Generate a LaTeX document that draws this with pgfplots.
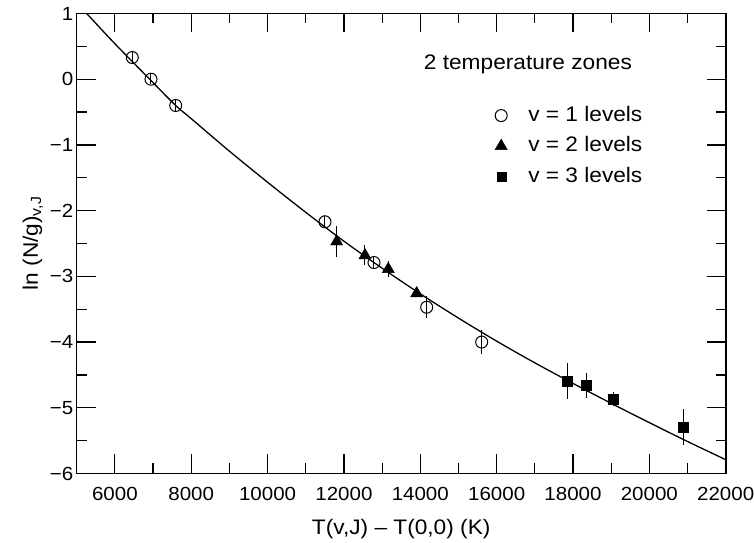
\documentclass[border=0pt]{standalone}
\usepackage{pgfplots}
\pgfplotsset{compat=1.18}
\usepackage{pgfplotstable}
\usepackage{fontspec}
\setmainfont{Liberation Sans}[FakeStretch=1.08]

\pgfplotstableread{
x y ey
6456 0.33 0.08
6946 0.00 0.08
7593 -0.40 0.10
11503 -2.17 0.10
12787 -2.79 0.10
14167 -3.47 0.17
15608 -4.00 0.18
}\vone
\pgfplotstableread{
x y ey
11810 -2.47 0.24
12551 -2.68 0.15
13162 -2.89 0.12
13905 -3.26 0.06
}\vtwo
\pgfplotstableread{
x y ey
17850 -4.59 0.27
18358 -4.66 0.19
19055 -4.87 0.11
20888 -5.29 0.27
}\vthree

\begin{document}
\begin{tikzpicture}
\useasboundingbox (-76.7pt,-68.7pt) rectangle (677.3pt,473.5pt);
\begin{axis}[
  scale only axis,
  width=649pt, height=460pt,
  xmin=5000, xmax=22000, ymin=-6, ymax=1,
  xtick={6000,8000,...,22000},
  minor x tick num=1,
  ytick={-6,-5,...,1},
  yticklabels={−6,−5,−4,−3,−2,−1,0,1},
  minor y tick num=1,
  scaled x ticks=false,
  /pgf/number format/assume math mode=true,
  /pgf/number format/1000 sep={},
  tick align=inside,
  major tick length=19pt,
  minor tick length=10pt,
  every tick/.style={line width=1.2pt, black},
  axis line style={line width=1.6pt},
  tick label style={font=\fontsize{19}{22}\selectfont},
  xticklabel style={yshift=-10pt},
  label style={font=\fontsize{21}{25}\selectfont},
  xlabel={T(v,J) – T(0,0) (K)},
  xlabel style={yshift=-12pt},
  ylabel={ln (N/g)\textsubscript{v,J}},
  legend style={
    at={(axis cs:15877,-0.36)}, anchor=north west,
    draw=none, fill=none,
    font=\fontsize{21}{25}\selectfont,
    row sep=9.5pt,
    nodes={inner sep=1pt, text height=15pt, text depth=4pt},
    /tikz/every odd column/.append style={column sep=20pt},
  },
  legend cell align=left,
  legend image code/.code={\draw[mark repeat=2,mark phase=2,#1] plot coordinates {(0pt,0pt)(6pt,0pt)(12pt,0pt)};},
  error bars/y dir=both,
  error bars/y explicit,
  error bars/error mark=none,
  error bars/error bar style={line width=1pt, black},
]
\addplot[only marks, mark=o, mark size=6pt, line width=1pt, black, forget plot] table[x=x, y=y, y error=ey] {\vone};
\addplot[only marks, mark=triangle*, mark size=7pt, black, forget plot] table[x=x, y=y, y error=ey] {\vtwo};
\addplot[only marks, mark=square*, mark size=5pt, black, forget plot] table[x=x, y=y, y error=ey] {\vthree};

\addplot[smooth, line width=1.3pt, black, forget plot] coordinates {
(5262,1.00) (6000,0.54) (6946,-0.02) (7593,-0.40) (8000,-0.60) (9000,-1.095)
(10000,-1.568) (11000,-2.026) (12000,-2.465) (13000,-2.876) (14000,-3.266)
(15000,-3.635) (16000,-3.986) (17000,-4.316) (18000,-4.629) (19000,-4.932)
(20000,-5.226) (21000,-5.513) (22000,-5.79)};

\addlegendimage{only marks, mark=o, mark size=6pt, line width=1pt, black}
\addlegendentry{v = 1 levels}
\addlegendimage{only marks, mark=triangle*, mark size=7pt, black}
\addlegendentry{v = 2 levels}
\addlegendimage{only marks, mark=square*, mark size=4.5pt, black}
\addlegendentry{v = 3 levels}

\node[font=\fontsize{21}{25}\selectfont] at (axis cs:16820,0.23) {2 temperature zones};
\end{axis}
\end{tikzpicture}
\end{document}
